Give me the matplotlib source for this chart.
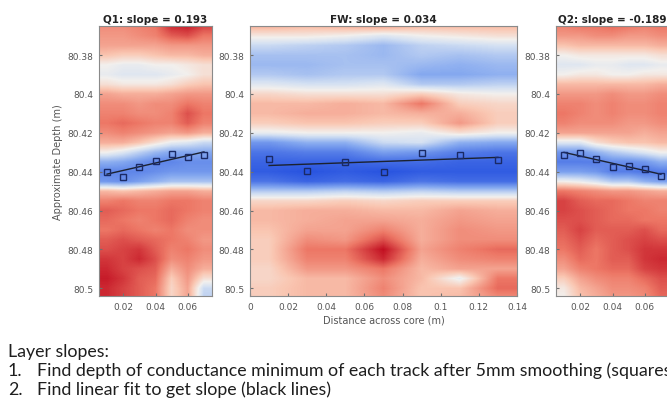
import matplotlib
matplotlib.use("Agg")
import matplotlib.pyplot as plt
import numpy as np
from matplotlib.colors import LinearSegmentedColormap

# depth rows (m) and track positions (m)
depths = [80.365 + 0.005 * k for k in range(29)]
q_tracks = [0.01, 0.02, 0.03, 0.04, 0.05, 0.06, 0.07]
fw_tracks = [0.01, 0.03, 0.05, 0.07, 0.09, 0.11, 0.13]

# normalised conductance (-1 blue .. 1 red), one row per depth
q1_grid = [
    [0.5, 0.5, 0.55, 0.6, 0.9, 0.95, 0.8],
    [0.45, 0.45, 0.5, 0.55, 0.7, 0.75, 0.6],
    [0.4, 0.4, 0.4, 0.4, 0.45, 0.45, 0.45],
    [0.25, 0.2, 0.2, 0.25, 0.3, 0.3, 0.35],
    [0.0, -0.05, -0.05, 0.0, 0.0, 0.05, 0.1],
    [-0.05, -0.1, -0.1, -0.1, -0.05, 0.0, 0.1],
    [0.1, 0.05, 0.05, 0.05, 0.1, 0.2, 0.25],
    [0.4, 0.35, 0.35, 0.35, 0.4, 0.45, 0.45],
    [0.5, 0.5, 0.45, 0.5, 0.5, 0.6, 0.55],
    [0.55, 0.55, 0.5, 0.5, 0.55, 0.75, 0.6],
    [0.6, 0.65, 0.6, 0.55, 0.55, 0.7, 0.55],
    [0.5, 0.55, 0.5, 0.45, 0.4, 0.45, 0.35],
    [0.35, 0.35, 0.25, 0.1, -0.05, -0.1, -0.2],
    [0.0, -0.1, -0.25, -0.4, -0.5, -0.5, -0.5],
    [-0.45, -0.5, -0.6, -0.7, -0.7, -0.65, -0.65],
    [-0.7, -0.7, -0.7, -0.65, -0.6, -0.6, -0.6],
    [-0.6, -0.65, -0.55, -0.45, -0.35, -0.35, -0.35],
    [0.3, 0.25, 0.3, 0.35, 0.4, 0.4, 0.35],
    [0.55, 0.6, 0.55, 0.55, 0.6, 0.6, 0.55],
    [0.7, 0.65, 0.6, 0.6, 0.65, 0.6, 0.55],
    [0.65, 0.6, 0.55, 0.6, 0.65, 0.55, 0.5],
    [0.6, 0.65, 0.6, 0.55, 0.6, 0.5, 0.5],
    [0.7, 0.75, 0.7, 0.65, 0.6, 0.55, 0.45],
    [0.75, 0.8, 0.85, 0.7, 0.55, 0.6, 0.5],
    [0.85, 0.8, 0.9, 0.75, 0.5, 0.55, 0.45],
    [0.9, 0.8, 0.75, 0.7, 0.35, 0.5, 0.35],
    [0.95, 0.85, 0.7, 0.65, 0.2, 0.45, 0.1],
    [0.9, 0.8, 0.7, 0.6, 0.15, 0.4, -0.2],
    [0.9, 0.8, 0.7, 0.6, 0.15, 0.4, -0.25],
]

fw_grid = [
    [0.35, 0.3, 0.35, 0.4, 0.3, 0.3, 0.3],
    [0.05, 0.05, 0.0, -0.1, 0.0, 0.05, 0.1],
    [-0.2, -0.25, -0.3, -0.4, -0.25, -0.2, -0.15],
    [-0.35, -0.35, -0.35, -0.4, -0.3, -0.35, -0.3],
    [-0.4, -0.4, -0.35, -0.35, -0.4, -0.45, -0.4],
    [-0.3, -0.35, -0.3, -0.3, -0.5, -0.5, -0.45],
    [-0.1, -0.15, -0.15, -0.1, -0.3, -0.3, -0.25],
    [0.15, 0.1, 0.1, 0.1, 0.2, 0.05, 0.0],
    [0.3, 0.3, 0.35, 0.3, 0.6, 0.2, 0.15],
    [0.3, 0.35, 0.35, 0.3, 0.35, 0.35, 0.2],
    [0.2, 0.25, 0.25, 0.2, 0.2, 0.45, 0.2],
    [-0.05, 0.0, 0.0, 0.0, -0.05, 0.1, 0.0],
    [-0.6, -0.45, -0.45, -0.2, -0.15, -0.45, -0.5],
    [-0.8, -0.75, -0.75, -0.55, -0.6, -0.75, -0.8],
    [-0.9, -0.9, -0.9, -0.85, -0.85, -0.9, -0.9],
    [-0.95, -1.0, -0.95, -1.0, -0.95, -0.95, -0.95],
    [-0.8, -0.9, -0.85, -0.9, -0.8, -0.85, -0.85],
    [-0.3, -0.3, -0.25, -0.3, -0.25, -0.3, -0.3],
    [0.15, 0.15, 0.2, 0.15, 0.2, 0.2, 0.2],
    [0.3, 0.35, 0.35, 0.3, 0.3, 0.4, 0.35],
    [0.3, 0.35, 0.4, 0.4, 0.35, 0.45, 0.4],
    [0.25, 0.4, 0.4, 0.55, 0.35, 0.5, 0.45],
    [0.2, 0.5, 0.45, 0.75, 0.35, 0.5, 0.5],
    [0.2, 0.6, 0.6, 1.0, 0.4, 0.55, 0.65],
    [0.2, 0.55, 0.55, 0.9, 0.35, 0.5, 0.55],
    [0.15, 0.45, 0.45, 0.6, 0.3, 0.4, 0.4],
    [0.15, 0.3, 0.3, 0.5, 0.3, -0.05, 0.6],
    [0.2, 0.3, 0.3, 0.55, 0.25, 0.25, 0.65],
    [0.2, 0.3, 0.3, 0.5, 0.25, 0.3, 0.5],
]

q2_grid = [
    [0.55, 0.6, 0.6, 0.65, 0.6, 0.55, 0.6],
    [0.45, 0.45, 0.5, 0.5, 0.45, 0.45, 0.5],
    [0.25, 0.3, 0.3, 0.3, 0.3, 0.3, 0.35],
    [0.0, 0.05, 0.05, 0.05, 0.05, 0.05, 0.1],
    [-0.1, -0.1, -0.05, -0.05, -0.1, -0.1, -0.05],
    [0.0, 0.05, 0.05, 0.0, 0.0, 0.05, 0.05],
    [0.3, 0.3, 0.3, 0.3, 0.3, 0.3, 0.35],
    [0.45, 0.45, 0.45, 0.5, 0.45, 0.45, 0.5],
    [0.55, 0.55, 0.5, 0.55, 0.5, 0.5, 0.55],
    [0.6, 0.55, 0.5, 0.55, 0.5, 0.5, 0.55],
    [0.55, 0.5, 0.5, 0.5, 0.45, 0.45, 0.5],
    [0.4, 0.4, 0.4, 0.4, 0.4, 0.35, 0.4],
    [-0.1, -0.1, 0.1, 0.2, 0.25, 0.25, 0.3],
    [-0.6, -0.6, -0.45, -0.3, -0.2, -0.1, 0.0],
    [-0.75, -0.75, -0.75, -0.65, -0.65, -0.6, -0.45],
    [-0.55, -0.55, -0.6, -0.75, -0.75, -0.8, -0.75],
    [0.0, -0.05, -0.15, -0.3, -0.3, -0.45, -0.55],
    [0.6, 0.55, 0.5, 0.45, 0.45, 0.4, 0.35],
    [0.8, 0.7, 0.65, 0.65, 0.6, 0.55, 0.55],
    [0.8, 0.75, 0.7, 0.65, 0.6, 0.6, 0.55],
    [0.75, 0.75, 0.7, 0.65, 0.65, 0.6, 0.6],
    [0.7, 0.8, 0.7, 0.7, 0.7, 0.75, 0.65],
    [0.65, 0.75, 0.65, 0.7, 0.75, 0.8, 0.75],
    [0.6, 0.7, 0.6, 0.7, 0.75, 0.85, 0.85],
    [0.5, 0.65, 0.6, 0.7, 0.7, 0.85, 0.9],
    [0.4, 0.55, 0.6, 0.65, 0.65, 0.8, 0.85],
    [0.2, 0.4, 0.5, 0.55, 0.55, 0.65, 0.75],
    [0.05, 0.3, 0.4, 0.5, 0.5, 0.55, 0.7],
    [0.0, 0.25, 0.35, 0.45, 0.45, 0.5, 0.65],
]

# depth of conductance minimum per track (squares)
q1_min_x = [0.01, 0.02, 0.03, 0.04, 0.05, 0.06, 0.07]
q1_min_depth = [80.440, 80.4426, 80.4374, 80.4344, 80.4308, 80.4323, 80.4313]
fw_min_x = [0.01, 0.03, 0.05, 0.07, 0.09, 0.11, 0.13]
fw_min_depth = [80.4333, 80.4395, 80.4349, 80.440, 80.4303, 80.4313, 80.4338]
q2_min_x = [0.01, 0.02, 0.03, 0.04, 0.05, 0.06, 0.07]
q2_min_depth = [80.4313, 80.4303, 80.4333, 80.4374, 80.4369, 80.4385, 80.4421]

titles = ["Q1: slope = 0.193", "FW: slope = 0.034", "Q2: slope = -0.189"]
depth_ticks = [80.38, 80.40, 80.42, 80.44, 80.46, 80.48, 80.50]
depth_labels = ["80.38", "80.4", "80.42", "80.44", "80.46", "80.48", "80.5"]

cmap = LinearSegmentedColormap.from_list("redblue", [
    (0.00, (0.16, 0.33, 0.88)),
    (0.25, (0.52, 0.66, 0.94)),
    (0.42, (0.83, 0.88, 0.95)),
    (0.50, (0.95, 0.94, 0.93)),
    (0.62, (0.98, 0.78, 0.70)),
    (0.80, (0.93, 0.47, 0.40)),
    (1.00, (0.76, 0.06, 0.13)),
])

W, H = 667, 406
fig = plt.figure(figsize=(W / 100, H / 100), dpi=100)
fig.patch.set_facecolor("white")

boxes = [(99, 27, 113, 270), (250, 27, 267, 270), (556, 27, 113, 270)]
grids = [q1_grid, fw_grid, q2_grid]
tracks = [q_tracks, fw_tracks, q_tracks]
mins = [(q1_min_x, q1_min_depth), (fw_min_x, fw_min_depth), (q2_min_x, q2_min_depth)]
xticks = [([0.02, 0.04, 0.06], ["0.02", "0.04", "0.06"]),
          ([0, 0.02, 0.04, 0.06, 0.08, 0.1, 0.12, 0.14],
           ["0", "0.02", "0.04", "0.06", "0.08", "0.1", "0.12", "0.14"]),
          ([0.02, 0.04, 0.06], ["0.02", "0.04", "0.06"])]

gray = "#707070"
for i in range(3):
    x0, y0, w, h = boxes[i]
    ax = fig.add_axes([x0 / W, (H - y0 - h) / H, w / W, h / H])
    tr = tracks[i]
    dx = tr[1] - tr[0]
    ext = [tr[0] - dx / 2, tr[-1] + dx / 2, depths[-1] + 0.0025, depths[0] - 0.0025]
    ax.imshow(np.array(grids[i]), cmap=cmap, vmin=-1, vmax=1, aspect="auto",
              extent=ext, interpolation="bilinear")
    mx, md = mins[i]
    fit = np.polyfit(mx, md, 1)
    ax.plot([mx[0], mx[-1]], np.polyval(fit, [mx[0], mx[-1]]), color="#1c2230", lw=1.0)
    ax.plot(mx, md, "s", mfc="none", mec="#1a2a66", ms=4.5, mew=1.0)
    ax.set_xlim(ext[0], ext[1])
    ax.set_ylim(80.504, 80.365)
    ax.set_yticks(depth_ticks)
    ax.set_yticklabels(depth_labels)
    ax.set_xticks(xticks[i][0])
    ax.set_xticklabels(xticks[i][1])
    ax.tick_params(direction="in", length=2.5, labelsize=6.5, colors=gray,
                   labelcolor="#555555", pad=4)
    for s in ax.spines.values():
        s.set_color("#8a8a8a")
        s.set_linewidth(0.8)
    ax.set_title(titles[i], fontsize=7.5, fontweight="bold", color="#222222", pad=3)
    if i == 0:
        ax.set_ylabel("Approximate Depth (m)", fontsize=7, color="#555555", labelpad=3)
    if i == 1:
        ax.set_xlabel("Distance across core (m)", fontsize=7, color="#555555", labelpad=3)

notes_font = "Lato"
notes_size = 12.8
ink = "#1e1e1e"
fig.text(8 / W, 1 - 352 / H, "Layer slopes:", fontsize=notes_size, family=notes_font,
         color=ink, va="center")
fig.text(8 / W, 1 - 371 / H, "1.", fontsize=notes_size, family=notes_font, color=ink, va="center")
fig.text(37 / W, 1 - 371 / H,
         "Find depth of conductance minimum of each track after 5mm smoothing (squares)",
         fontsize=notes_size, family=notes_font, color=ink, va="center")
fig.text(8 / W, 1 - 390 / H, "2.", fontsize=notes_size, family=notes_font, color=ink, va="center")
fig.text(37 / W, 1 - 390 / H, "Find linear fit to get slope (black lines)",
         fontsize=notes_size, family=notes_font, color=ink, va="center")

plt.savefig("out.png", dpi=100)
